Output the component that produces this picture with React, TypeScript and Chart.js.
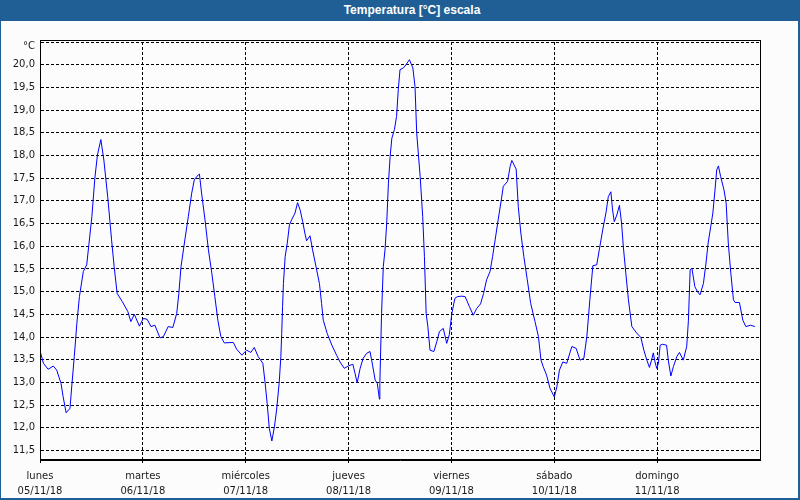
import React, { useEffect, useRef } from 'react';
import { Chart, registerables } from 'chart.js';

Chart.register(...registerables);

const titleText = 'Temperatura [°C] escala';
const unitLabel = '°C';

const dayNames = ['lunes', 'martes', 'miércoles', 'jueves', 'viernes', 'sábado', 'domingo'];
const dayDates = ['05/11/18', '06/11/18', '07/11/18', '08/11/18', '09/11/18', '10/11/18', '11/11/18'];
const dayStartHours = [0, 24, 48, 72, 96, 120, 144];

const yTickValues = [11.5, 12, 12.5, 13, 13.5, 14, 14.5, 15, 15.5, 16, 16.5, 17, 17.5, 18, 18.5, 19, 19.5, 20, 20.5];

// hours since Monday 00:00
const hours = [
  0.0, 0.8, 1.9, 3.1, 3.9, 4.9, 5.4, 6.1, 7.0, 7.4,
  8.0, 8.6, 9.2, 10.1, 10.9, 11.4, 12.1, 12.8, 13.4, 14.2,
  14.9, 15.8, 16.7, 17.3, 18.0, 19.2, 20.5, 21.2, 22.0, 23.2,
  24.1, 25.0, 25.9, 26.8, 28.0, 28.8, 29.9, 31.0, 31.9, 32.4,
  32.9, 33.8, 34.6, 35.4, 36.0, 36.6, 37.2, 37.7, 38.5, 39.3,
  40.1, 40.8, 41.5, 42.2, 43.0, 45.1, 45.9, 47.1, 48.2, 49.2,
  50.0, 50.9, 52.0, 52.5, 53.0, 53.5, 54.1, 54.7, 55.2, 55.8,
  56.2, 56.4, 56.6, 56.8, 57.2, 57.7, 58.2, 58.7, 59.5, 60.1,
  60.7, 61.3, 61.8, 62.2, 63.0, 63.6, 64.4, 65.2, 65.7, 66.1,
  67.0, 68.1, 69.2, 70.0, 71.0, 71.9, 73.0, 73.5, 74.0, 74.7,
  75.4, 76.2, 77.0, 77.6, 78.2, 78.7, 79.2, 79.3, 79.7, 80.1,
  80.5, 80.9, 81.3, 81.7, 82.1, 82.7, 83.2, 83.6, 84.0, 84.8,
  85.4, 86.2, 87.0, 87.5, 87.9, 88.7, 89.3, 89.7, 90.1, 90.5,
  91.0, 91.9, 92.6, 93.2, 94.1, 94.9, 95.5, 96.1, 96.8, 97.4,
  98.4, 99.2, 100.2, 101.1, 101.9, 102.8, 103.5, 104.2, 105.0, 105.6,
  106.2, 106.9, 107.7, 108.1, 109.1, 109.7, 110.1, 111.1, 111.6, 112.2,
  112.9, 113.7, 114.5, 115.5, 116.3, 116.9, 117.4, 118.2, 119.0, 120.0,
  120.6, 121.2, 122.0, 122.9, 124.1, 125.1, 126.0, 126.9, 127.6, 128.3,
  129.0, 129.9, 130.5, 131.3, 132.1, 132.6, 133.2, 133.6, 134.0, 134.6,
  135.2, 135.7, 136.1, 136.7, 137.3, 138.1, 139.2, 140.2, 140.9, 141.6,
  142.2, 142.7, 143.1, 143.5, 143.9, 144.3, 144.7, 145.3, 146.2, 146.6,
  147.2, 147.8, 148.6, 149.2, 150.1, 150.9, 151.3, 151.7, 152.1, 152.8,
  153.4, 154.0, 154.8, 155.4, 155.9, 156.5, 157.0, 157.5, 157.9, 158.3,
  158.8, 159.6, 160.1, 160.6, 161.2, 161.8, 162.2, 163.2, 164.0, 164.7,
  165.8, 166.8,
];

const temps = [
  13.70, 13.42, 13.29, 13.36, 13.27, 12.98, 12.68, 12.33, 12.43, 12.90,
  13.57, 14.30, 14.89, 15.44, 15.59, 16.03, 16.65, 17.50, 18.01, 18.35,
  17.90, 17.09, 16.14, 15.55, 14.96, 14.78, 14.56, 14.34, 14.50, 14.24,
  14.41, 14.39, 14.23, 14.26, 13.98, 14.01, 14.23, 14.21, 14.52, 14.96,
  15.55, 16.14, 16.65, 17.17, 17.46, 17.54, 17.59, 17.17, 16.58, 15.92,
  15.40, 14.89, 14.37, 14.01, 13.87, 13.88, 13.73, 13.60, 13.71, 13.66,
  13.77, 13.57, 13.42, 13.01, 12.54, 11.99, 11.71, 12.02, 12.39, 12.98,
  13.57, 14.08, 14.67, 15.18, 15.77, 16.07, 16.47, 16.58, 16.73, 16.96,
  16.80, 16.54, 16.29, 16.12, 16.23, 15.92, 15.55, 15.18, 14.74, 14.37,
  14.08, 13.82, 13.60, 13.45, 13.31, 13.36, 13.40, 13.20, 12.99, 13.31,
  13.53, 13.64, 13.68, 13.38, 13.05, 12.98, 12.63, 12.98, 14.52, 15.55,
  15.92, 16.51, 17.39, 17.98, 18.38, 18.57, 18.86, 19.45, 19.89, 19.93,
  20.00, 20.11, 19.93, 19.52, 18.49, 17.54, 16.65, 15.77, 14.52, 14.23,
  13.71, 13.68, 13.90, 14.12, 14.19, 13.86, 14.05, 14.52, 14.85, 14.89,
  14.90, 14.89, 14.67, 14.48, 14.63, 14.73, 14.96, 15.26, 15.44, 15.77,
  16.14, 16.58, 17.06, 17.32, 17.43, 17.76, 17.89, 17.70, 16.87, 16.29,
  15.77, 15.26, 14.74, 14.34, 14.01, 13.49, 13.35, 13.16, 12.87, 12.68,
  12.90, 13.27, 13.45, 13.42, 13.79, 13.75, 13.49, 13.53, 14.01, 14.82,
  15.57, 15.59, 15.92, 16.36, 16.76, 17.09, 17.20, 16.80, 16.54, 16.69,
  16.90, 16.51, 16.00, 15.40, 14.82, 14.23, 14.09, 13.99, 13.71, 13.49,
  13.33, 13.49, 13.65, 13.45, 13.31, 13.42, 13.82, 13.84, 13.82, 13.49,
  13.14, 13.35, 13.57, 13.66, 13.49, 13.79, 14.37, 15.48, 15.52, 15.11,
  15.00, 14.93, 15.18, 15.63, 16.07, 16.43, 16.73, 17.24, 17.68, 17.77,
  17.54, 17.24, 16.95, 16.07, 15.40, 14.82, 14.76, 14.76, 14.37, 14.23,
  14.26, 14.23,
];

const FRAME_BLUE = '#1f5f96';

export default function App() {
  const canvasRef = useRef<HTMLCanvasElement>(null);

  useEffect(() => {
    const canvas = canvasRef.current;
    if (!canvas) return;
    Chart.defaults.font.family = "'DejaVu Sans', sans-serif";
    Chart.defaults.font.size = 10;

    const bgPlugin = {
      id: 'bgFill',
      beforeDraw(c: any) {
        const ctx = c.ctx;
        ctx.save();
        ctx.fillStyle = '#fbfcfb';
        ctx.fillRect(0, 0, c.width, c.height);
        ctx.restore();
      },
    };
    const framePlugin = {
      id: 'plotFrame',
      afterDraw(c: any) {
        const { left, right, top, bottom } = c.chartArea;
        const ctx = c.ctx;
        ctx.save();
        ctx.strokeStyle = '#000';
        ctx.lineWidth = 1;
        ctx.setLineDash([]);
        ctx.strokeRect(Math.round(left) + 0.5, Math.round(top) - 1.5, Math.round(right - left), Math.round(bottom - top) + 1);
        ctx.restore();
      },
    };

    const data = hours.map((h, i) => ({ x: h, y: temps[i] }));

    const chart = new Chart(canvas, {
      type: 'line',
      data: {
        datasets: [
          {
            label: titleText,
            data,
            borderColor: '#0000ff',
            borderWidth: 1,
            pointRadius: 0,
            tension: 0,
            fill: false,
          },
        ],
      },
      options: {
        animation: false,
        responsive: false,
        events: [],
        layout: { padding: { left: 0, top: 42, right: 40, bottom: 0 } },
        plugins: {
          legend: { display: false },
          tooltip: { enabled: false },
          title: { display: false },
        },
        scales: {
          x: {
            type: 'linear',
            min: 0,
            max: 168,
            afterBuildTicks: (s: any) => {
              s.ticks = dayStartHours.map((v) => ({ value: v }));
            },
            afterFit: (s: any) => {
              s.height = 40;
            },
            ticks: {
              autoSkip: false,
              maxRotation: 0,
              minRotation: 0,
              padding: 6,
              color: '#1a1a1a',
              font: { size: 10, lineHeight: 1.5 },
              callback: (_v: any, i: number) => [dayNames[i], dayDates[i]],
            },
            grid: { color: '#000', lineWidth: 1, drawTicks: true, tickLength: 3 },
            border: { display: true, color: '#000', width: 1, dash: [3, 2] },
          },
          y: {
            type: 'linear',
            min: 11.29,
            max: 20.5,
            afterBuildTicks: (s: any) => {
              s.ticks = yTickValues.map((v) => ({ value: v }));
            },
            afterFit: (s: any) => {
              s.width = 40;
            },
            ticks: {
              padding: 5,
              color: '#1a1a1a',
              font: (ctx: any) =>
                ctx.tick && ctx.tick.value >= 20.5 ? { size: 10, lineHeight: 0.8 } : { size: 10, lineHeight: 1.2 },
              callback: (v: any) => (Number(v) >= 20.5 ? ['', unitLabel] : Number(v).toFixed(1).replace('.', ',')),
            },
            grid: { color: '#000', lineWidth: 1, drawTicks: false },
            border: { display: true, color: '#000', width: 1, dash: [3, 2] },
          },
        },
      },
      plugins: [bgPlugin, framePlugin],
    } as any);

    return () => chart.destroy();
  }, []);

  return (
    <div style={{ position: 'absolute', left: 0, top: 0, width: 800, height: 500, overflow: 'hidden' }}>
      <canvas ref={canvasRef} width={800} height={500} style={{ position: 'absolute', left: 0, top: 0, width: 800, height: 500 }} />
      <div
        style={{
          position: 'absolute',
          left: 0,
          top: 0,
          width: 800,
          height: 21,
          background: FRAME_BLUE,
          color: '#ffffff',
          fontFamily: "'Liberation Sans', Arial, sans-serif",
          fontWeight: 'bold',
          fontSize: 12,
          lineHeight: '21px',
          textAlign: 'center',
          boxSizing: 'border-box',
          paddingLeft: 24,
        }}
      >
        {titleText}
      </div>
      <div
        style={{
          position: 'absolute',
          left: 0,
          top: 0,
          width: 800,
          height: 500,
          boxSizing: 'border-box',
          borderLeft: `1px solid ${FRAME_BLUE}`,
          borderRight: `2px solid ${FRAME_BLUE}`,
          borderBottom: `2px solid ${FRAME_BLUE}`,
          pointerEvents: 'none',
        }}
      />
    </div>
  );
}
